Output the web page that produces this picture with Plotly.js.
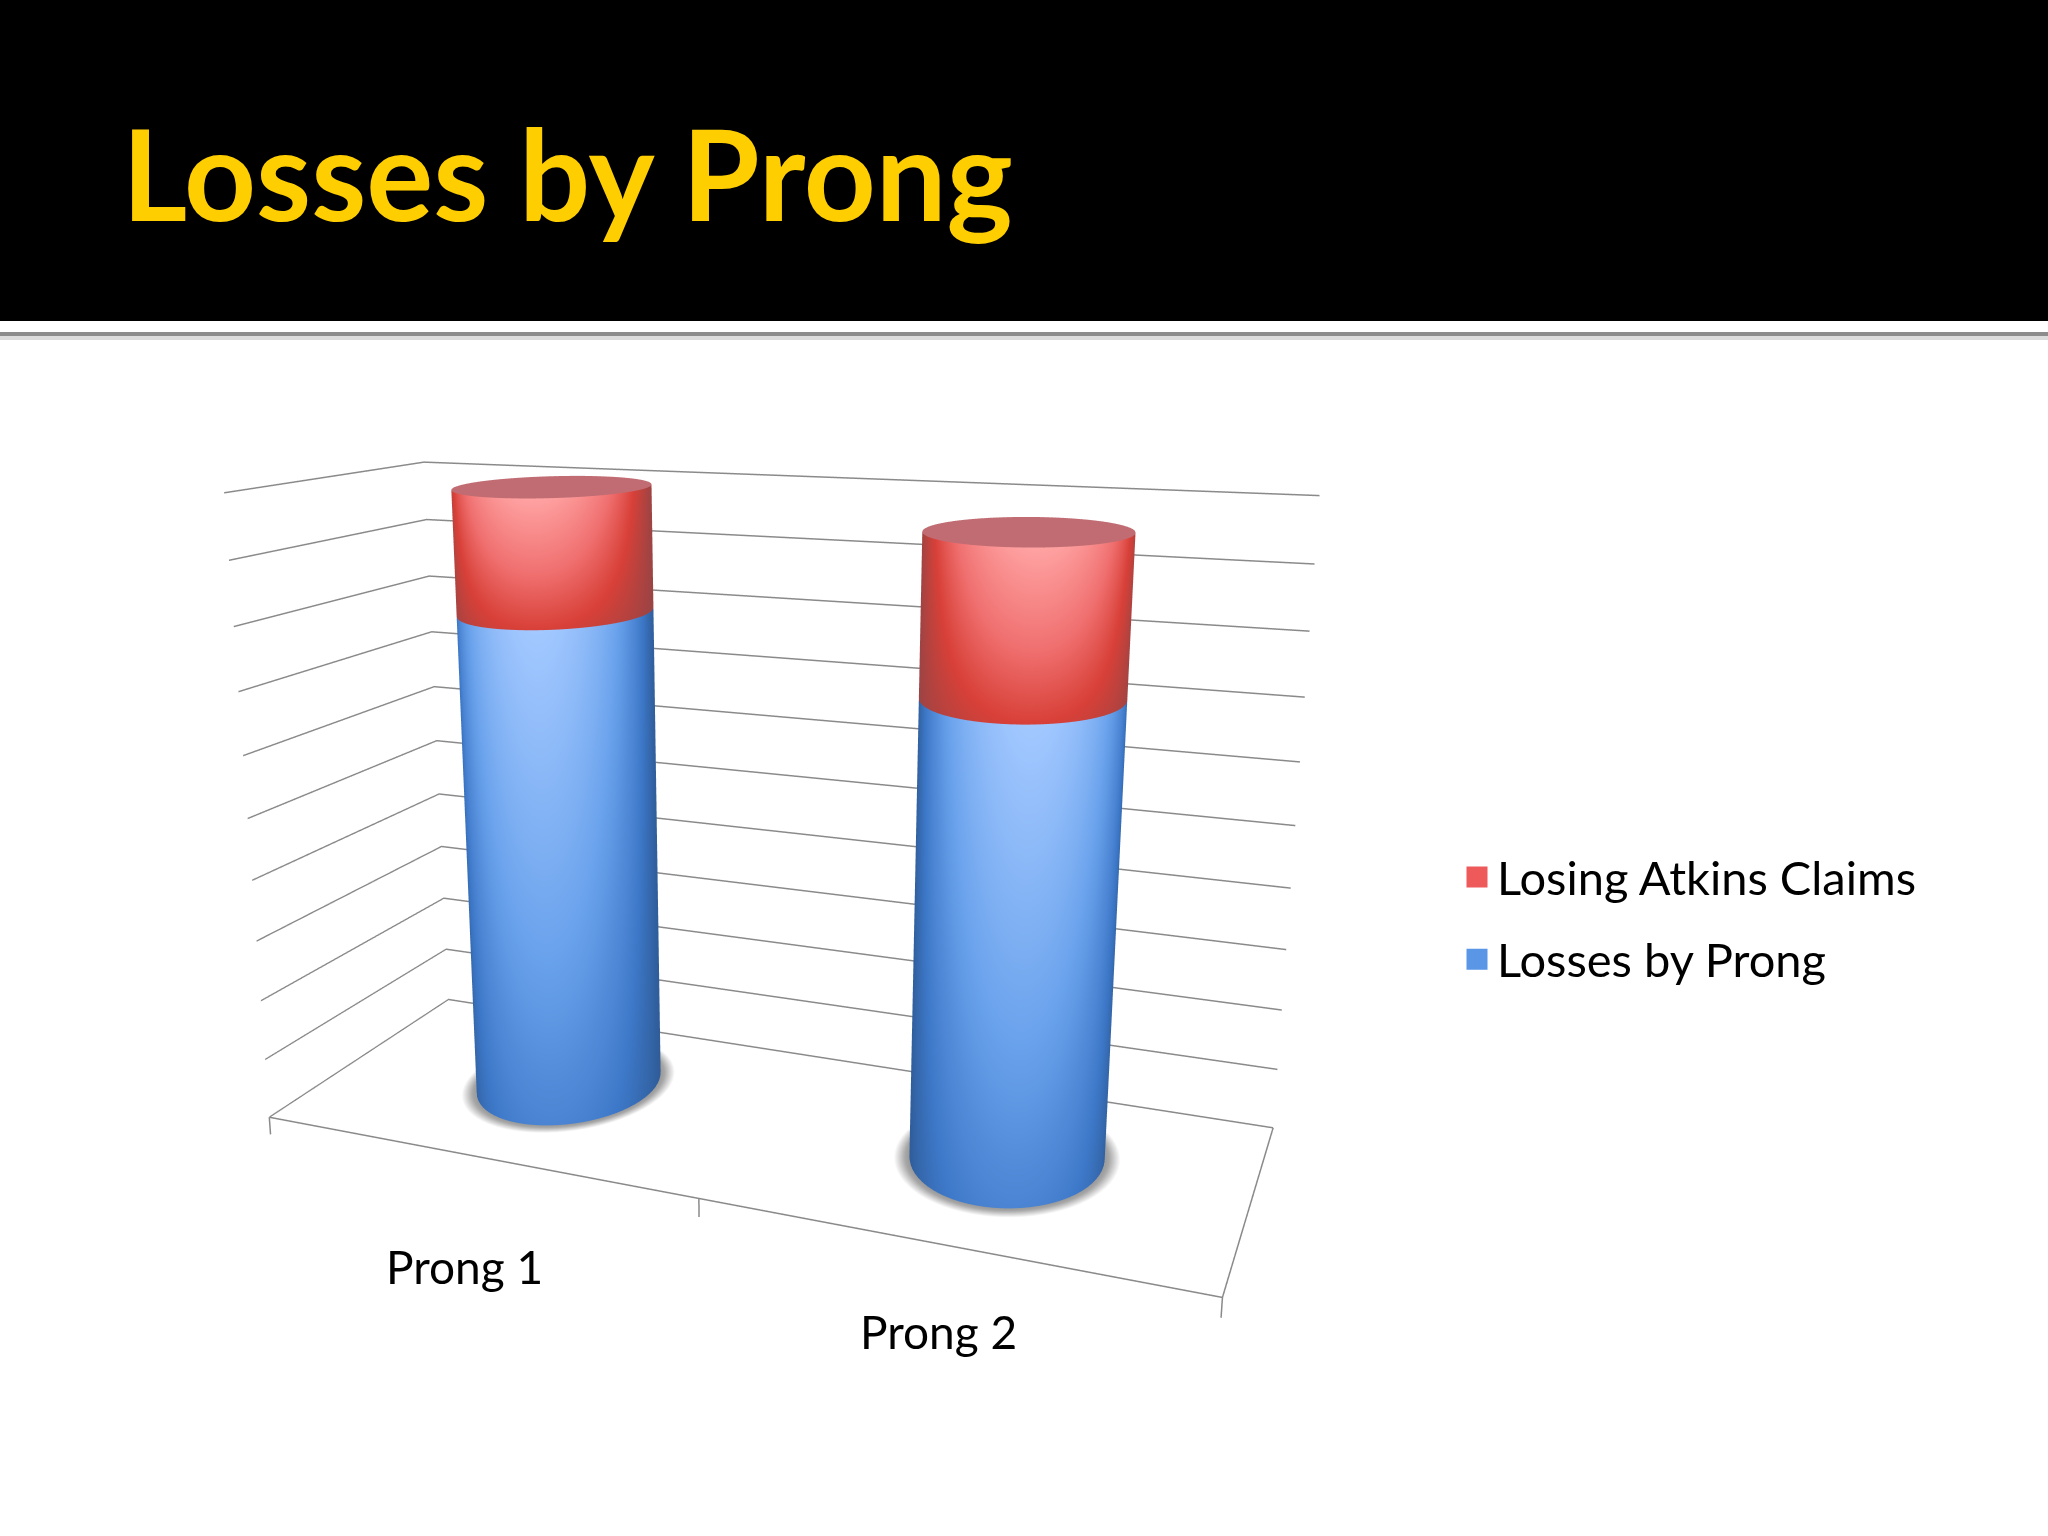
<!DOCTYPE html>
<html>
<head>
<meta charset="utf-8">
<script src="https://cdn.plot.ly/plotly-3.0.1.min.js"></script>
<style>html,body{margin:0;padding:0;background:#fff}#chart{width:2048px;height:1536px}</style>
</head>
<body>
<div id="chart"></div>
<script>
const chartTitle = 'Losses by Prong';
const categories = ['Prong 1', 'Prong 2'];
const categoryPositions = [0.51, 1.51];
const lossesByProng = [80, 72];
const losingAtkinsClaims = [19.5, 24];
const seriesNames = ['Losing Atkins Claims', 'Losses by Prong'];
const valueTicks = [0,10,20,30,40,50,60,70,80,90,100];

const aspect = {x:1.365, y:0.5, z:0.95};
const xRange = [0,2], yRange = [0,1], zRange = [-5,100];
const worldRx = 0.133, worldRy = 0.16;
const depthCentre = 0.55;
const rx = worldRx/(aspect.x/(xRange[1]-xRange[0]));
const ry = worldRy/(aspect.y/(yRange[1]-yRange[0]));
const eye = {x:0.907, y:-2.301, z:0.733};
const vlen = Math.hypot(eye.x, eye.y);
const view = [eye.x/vlen, eye.y/vlen];

const blueScale = [[0,'#2f5c98'],[0.2,'#3d78c8'],[0.55,'#6aa2ec'],[1,'#a2c8ff']];
const redScale  = [[0,'#9a4444'],[0.3,'#d84038'],[0.6,'#f07070'],[1,'#ffa2a2']];
const capScale  = [[0,'#c06c72'],[1,'#c06c72']];
const shadowScale = [[0,'#808080'],[0.5,'#a8a8a8'],[1,'#ffffff']];
const common = {type:'surface', showscale:false, hoverinfo:'skip', cmin:0, cmax:1, cauto:false,
  lighting:{ambient:1,diffuse:0,specular:0,roughness:1,fresnel:0}};

const NT = 72, NZ = 16;
function wall(cx, z0, z1, scale, name){
  const X=[],Y=[],Z=[],C=[];
  for(let k=0;k<=NZ;k++){
    const f=k/NZ, xr=[],yr=[],zr=[],cr=[];
    for(let i=0;i<=NT;i++){
      const th=2*Math.PI*i/NT, c=Math.cos(th), s=Math.sin(th);
      const d=Math.max(0,c*view[0]+s*view[1]);
      xr.push(cx+rx*c); yr.push(depthCentre+ry*s); zr.push(z0+(z1-z0)*f);
      cr.push((0.03+0.97*Math.pow(d,1.6))*(0.3+0.7*f));
    }
    X.push(xr);Y.push(yr);Z.push(zr);C.push(cr);
  }
  return Object.assign({},common,{x:X,y:Y,z:Z,surfacecolor:C,colorscale:scale,name});
}
function disc(cx, z, r0, r1, scale, tFn){
  const X=[],Y=[],Z=[],C=[];
  for(let k=0;k<=8;k++){
    const f=k/8, q=r0+(r1-r0)*f, xr=[],yr=[],zr=[],cr=[];
    for(let i=0;i<=NT;i++){
      const th=2*Math.PI*i/NT;
      xr.push(cx+rx*q*Math.cos(th)); yr.push(depthCentre+ry*q*Math.sin(th)); zr.push(z); cr.push(tFn(f));
    }
    X.push(xr);Y.push(yr);Z.push(zr);C.push(cr);
  }
  return Object.assign({},common,{x:X,y:Y,z:Z,surfacecolor:C,colorscale:scale});
}
const traces=[];
categoryPositions.forEach((cx,i)=>{
  const b=lossesByProng[i], t=b+losingAtkinsClaims[i];
  traces.push(disc(cx,0.05,0,1.16,shadowScale,f=>f<0.8?0:(f-0.8)/0.2));
  traces.push(wall(cx,0,b,blueScale,seriesNames[1]));
  traces.push(wall(cx,b,t,redScale,seriesNames[0]));
  traces.push(disc(cx,t,0,1,capScale,()=>0.5));
});
const frameX=[0,2,2,null,0,0,null,1,1,null,2,2];
const frameY=[0,0,1,null,0,0,null,0,0,null,0,0];
const frameZ=[0,0,0,null,0,-3,null,0,-3,null,0,-3];
traces.push({type:'scatter3d',mode:'lines',x:frameX,y:frameY,z:frameZ,showlegend:false,hoverinfo:'skip',
  line:{color:'#8a8a8a',width:3}});
[['#ee5a5a',0],['#5a96e6',1]].forEach(([col,i])=>{
  traces.push({type:'scatter3d',mode:'markers',x:[null],y:[null],z:[null],name:seriesNames[i],showlegend:true,
    legendgroup:'g'+i,hoverinfo:'skip',
    marker:{symbol:'square',size:16,color:col,line:{color:col,width:5}}});
});
const hiddenAxis={showgrid:false,zeroline:false,showline:false,showticklabels:false,ticks:'',
  showbackground:false,showspikes:false,title:{text:''}};
const layout={
  width:2048,height:1536,margin:{l:0,r:0,t:0,b:0},paper_bgcolor:'#fff',
  title:{text:chartTitle,x:122/2048,xanchor:'left',y:1-221/1536,yanchor:'bottom',yref:'paper',
    font:{family:'Lato',size:125.5,color:'#ffce00',weight:700}},
  shapes:[
    {type:'rect',xref:'paper',yref:'paper',x0:0,x1:1,y0:1-321/1536,y1:1,fillcolor:'#000',line:{width:0},layer:'below'},
    {type:'rect',xref:'paper',yref:'paper',x0:0,x1:1,y0:1-340/1536,y1:1-336/1536,fillcolor:'#dcdcdc',line:{width:0},layer:'below'},
    {type:'rect',xref:'paper',yref:'paper',x0:0,x1:1,y0:1-336/1536,y1:1-332/1536,fillcolor:'#8c8c8c',line:{width:0},layer:'below'}
  ],
  legend:{x:1457/2048,xanchor:'left',y:1-840/1536,yanchor:'top',font:{family:'Lato',size:47,color:'#000'},
    tracegroupgap:18,bgcolor:'rgba(0,0,0,0)',traceorder:'grouped',itemclick:false,itemdoubleclick:false},
  scene:{
    domain:{x:[0,0.75],y:[0,1]},
    aspectmode:'manual',aspectratio:aspect,
    camera:{eye:eye,center:{x:0,y:0,z:0.1},up:{x:0,y:0,z:1},projection:{type:'perspective'}},
    bgcolor:'rgba(0,0,0,0)',
    xaxis:Object.assign({},hiddenAxis,{range:xRange}),
    yaxis:Object.assign({},hiddenAxis,{range:yRange}),
    zaxis:Object.assign({},hiddenAxis,{range:zRange,tickmode:'array',tickvals:valueTicks,showgrid:true,gridcolor:'#8a8a8a',gridwidth:3}),
    annotations:categories.map((c,i)=>({x:categoryPositions[i],y:0,z:0,text:c,showarrow:false,
      xshift:[-14,-14][i],yshift:[-110,-85][i],font:{family:'Lato',size:46,color:'#000'}}))
  }
};
Plotly.newPlot('chart',traces,layout,{displayModeBar:false});
</script>
</body>
</html>
